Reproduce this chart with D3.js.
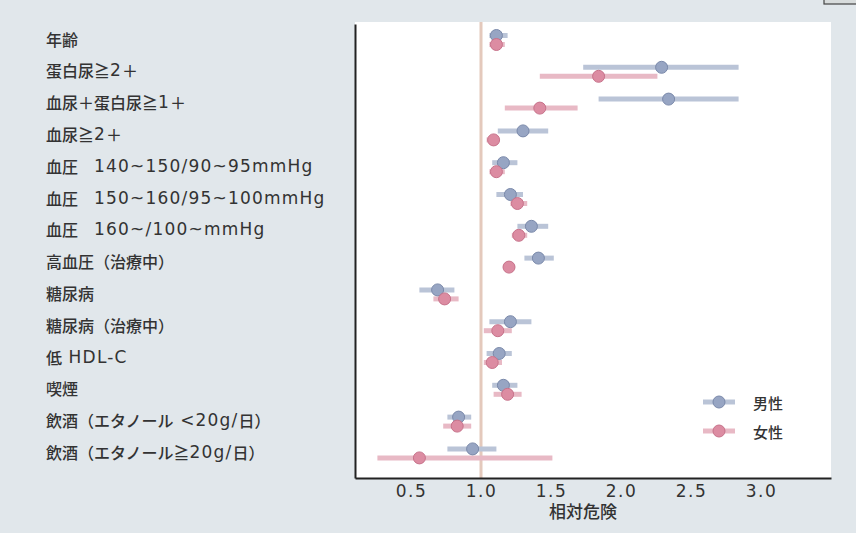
<!DOCTYPE html>
<html><head><meta charset="utf-8">
<script src="https://cdn.jsdelivr.net/npm/d3@7"></script>
<style>
html,body{margin:0;padding:0;background:#e1e7eb;}
svg{display:block;}
</style></head>
<body>
<svg id="chart" width="856" height="533"></svg>
<script>
// ---- data ----
const categories = [
  "年齢",
  "蛋白尿≧2＋",
  "血尿＋蛋白尿≧1＋",
  "血尿≧2＋",
  "血圧　140~150/90~95mmHg",
  "血圧　150~160/95~100mmHg",
  "血圧　160~/100~mmHg",
  "高血圧（治療中）",
  "糖尿病",
  "糖尿病（治療中）",
  "低 HDL-C",
  "喫煙",
  "飲酒（エタノール <20g/日）",
  "飲酒（エタノール≧20g/日）"
];
const maleRR = [1.11, 2.29, 2.34, 1.30, 1.16, 1.21, 1.36, 1.41, 0.69, 1.21, 1.13, 1.16, 0.84, 0.94];
const maleLo = [1.06, 1.73, 1.84, 1.12, 1.08, 1.11, 1.26, 1.31, 0.56, 1.06, 1.04, 1.08, 0.76, 0.76];
const maleHi = [1.19, 2.84, 2.84, 1.48, 1.26, 1.30, 1.48, 1.52, 0.81, 1.36, 1.22, 1.26, 0.93, 1.11];
const femaleRR = [1.11, 1.84, 1.42, 1.09, 1.11, 1.26, 1.27, 1.20, 0.74, 1.12, 1.08, 1.19, 0.83, 0.56];
const femaleLo = [1.06, 1.42, 1.17, 1.04, 1.06, 1.21, 1.22, 1.16, 0.66, 1.02, 1.02, 1.09, 0.73, 0.26];
const femaleHi = [1.17, 2.26, 1.69, 1.12, 1.17, 1.33, 1.33, 1.24, 0.84, 1.22, 1.15, 1.29, 0.93, 1.51];
const xTicks = [0.5, 1.0, 1.5, 2.0, 2.5, 3.0];
const seriesNames = ["男性", "女性"];
const xTitle = "相対危険";

// ---- layout ----
const svg = d3.select("#chart");
const P = {left: 355, right: 831, top: 22, bottom: 478};
const x = d3.scaleLinear().domain([0.1, 3.5]).range([P.left, P.right]);
const y = d3.scalePoint().domain(categories).range([40, 453.4]);
const colors = {
  male: {line: "#bac4d7", fill: "#97a5c3", stroke: "#7a89aa"},
  female: {line: "#e8b9c5", fill: "#dc8ca2", stroke: "#c7728a"}
};

// panel
svg.append("rect").attr("x", P.left).attr("y", P.top)
  .attr("width", P.right - P.left).attr("height", P.bottom - P.top)
  .attr("fill", "#ffffff");

// little box top right
svg.append("rect").attr("x", 824).attr("y", -3).attr("width", 34).attr("height", 7)
  .attr("fill", "#d8dcdc").attr("stroke", "#444").attr("stroke-width", 1.2);

// reference line at 1
svg.append("line").attr("x1", x(1)).attr("x2", x(1))
  .attr("y1", P.top).attr("y2", P.bottom)
  .attr("stroke", "#e4c9bc").attr("stroke-width", 3);

// axes
const xAxis = svg.append("g").attr("transform", `translate(0,${P.bottom})`)
  .call(d3.axisBottom(x).tickValues(xTicks).tickFormat(d3.format(".1f"))
    .tickSize(0).tickSizeOuter(0).tickPadding(7));
xAxis.select(".domain").attr("stroke", "#222").attr("stroke-width", 2);
xAxis.selectAll("text").attr("font-family", "DejaVu Sans, sans-serif")
  .attr("font-size", 17).attr("fill", "#333").attr("letter-spacing", 1.5);

const yAxis = svg.append("g").attr("transform", `translate(${P.left},0)`)
  .call(d3.axisLeft(d3.scaleLinear().range([P.top + 2, P.bottom])).tickValues([]).tickSizeOuter(0));
yAxis.select(".domain").attr("stroke", "#222").attr("stroke-width", 2);

svg.append("text").attr("x", 583).attr("y", 518).attr("text-anchor", "middle")
  .attr("font-family", "Noto Sans CJK JP, sans-serif").attr("font-size", 17)
  .attr("font-weight", 500).attr("fill", "#333").text(xTitle);

// category labels (Latin runs in a wide font)
const lab = svg.append("g");
categories.forEach(c => {
  const t = lab.append("text").attr("x", 46).attr("y", y(c) - 1.5)
    .attr("dominant-baseline", "central")
    .attr("font-family", "Noto Sans CJK JP, sans-serif").attr("font-size", 16)
    .attr("font-weight", 500).attr("fill", "#333");
  const parts = c.split(/([\x20-\x7E]+)/).filter(s => s.length);
  parts.forEach(p => {
    const ts = t.append("tspan").text(p);
    if (/^[\x20-\x7E]+$/.test(p)) {
      ts.attr("font-family", "DejaVu Sans, sans-serif").attr("font-size", 17)
        .attr("font-weight", 400).attr("letter-spacing", 1.2);
    }
  });
});

// series
const series = [
  {key: "male", rr: maleRR, lo: maleLo, hi: maleHi, dy: -4.5},
  {key: "female", rr: femaleRR, lo: femaleLo, hi: femaleHi, dy: 4.5}
];
series.forEach(s => {
  const g = svg.append("g");
  const col = colors[s.key];
  g.selectAll("line").data(categories).join("line")
    .attr("x1", (d, i) => x(s.lo[i])).attr("x2", (d, i) => x(s.hi[i]))
    .attr("y1", d => y(d) + s.dy).attr("y2", d => y(d) + s.dy)
    .attr("stroke", col.line).attr("stroke-width", 5).attr("stroke-linecap", "butt");
});
series.forEach(s => {
  const g = svg.append("g");
  const col = colors[s.key];
  g.selectAll("circle").data(categories).join("circle")
    .attr("cx", (d, i) => x(s.rr[i])).attr("cy", d => y(d) + s.dy).attr("r", 6)
    .attr("fill", col.fill).attr("stroke", col.stroke).attr("stroke-width", 1);
});

// legend
const leg = svg.append("g");
series.forEach((s, i) => {
  const col = colors[s.key];
  const ly = 402 + i * 29;
  leg.append("line").attr("x1", 703).attr("x2", 735).attr("y1", ly).attr("y2", ly)
    .attr("stroke", col.line).attr("stroke-width", 5);
  leg.append("circle").attr("cx", 719).attr("cy", ly).attr("r", 6)
    .attr("fill", col.fill).attr("stroke", col.stroke);
  leg.append("text").attr("x", 753).attr("y", ly).attr("dominant-baseline", "central")
    .attr("font-family", "Noto Sans CJK JP, sans-serif").attr("font-size", 15)
    .attr("font-weight", 500).attr("fill", "#333").text(seriesNames[i]);
});
</script>
</body></html>
